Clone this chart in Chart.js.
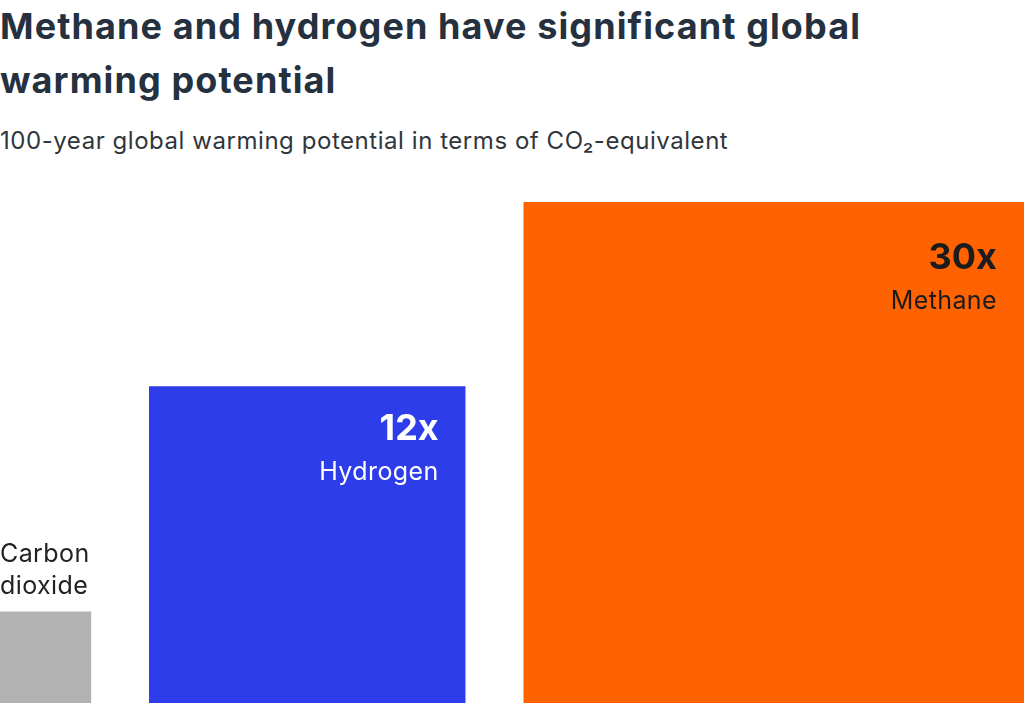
<html>

<head>
    <title>Global warming potential</title>
    <script src="https://cdn.jsdelivr.net/npm/chart.js@4.4.1/dist/chart.umd.min.js"></script>
    <style>
        body {
            margin: 0;
            background: #fff;
            font-family: Inter, 'Noto Sans', sans-serif;
        }

        #title {
            position: absolute;
            left: 0;
            top: -1px;
            font-size: 36px;
            font-weight: 700;
            letter-spacing: 1.1px;
            line-height: 54px;
            color: #25313e;
        }

        #subtitle {
            position: absolute;
            left: 0;
            top: 126px;
            font-size: 24px;
            letter-spacing: 0.55px;
            line-height: 30px;
            color: #30363c;
        }

        #chartDiv {
            position: absolute;
            left: 0;
            top: 170px;
            width: 1024px;
            height: 545px;
        }
    </style>
</head>

<body>
    <div id="title">Methane and hydrogen have significant global<br>warming potential</div>
    <div id="subtitle">100-year global warming potential in terms of CO₂-equivalent</div>
    <div id="chartDiv"><canvas id="chartCanvas"></canvas></div>

    <script>
        // data: global warming potential, CO2 = 1
        const gases = ['Carbon dioxide', 'Hydrogen', 'Methane']
        const potential = [1, 12, 30]
        const valueLabels = ['', '12x', '30x']

        const colors = ['#b2b2b2', '#2c3de9', '#ff6200']
        const textColors = ['#222222', '#ffffff', '#1c1c1c']
        const gap = 0.63 // space between squares, in side units

        // each square's area is proportional to the value
        const sides = potential.map(v => Math.sqrt(v))
        let cursor = 0
        const squares = sides.map(s => {
            const x0 = cursor
            cursor += s + gap
            return { x0, x1: x0 + s, side: s }
        })
        const xMax = cursor - gap
        const yMax = Math.max(...sides)

        const datasets = squares.map((sq, i) => ({
            label: gases[i],
            data: [
                { x: sq.x0, y: 0 },
                { x: sq.x0, y: sq.side },
                { x: sq.x1, y: sq.side },
                { x: sq.x1, y: 0 },
            ],
            showLine: true,
            fill: 'origin',
            backgroundColor: colors[i],
            borderColor: colors[i],
            borderWidth: 0,
            pointRadius: 0,
            pointHoverRadius: 0,
            tension: 0,
        }))

        const squareLabels = {
            id: 'squareLabels',
            afterDatasetsDraw(chart) {
                const { ctx, scales: { x, y } } = chart
                ctx.save()
                squares.forEach((sq, i) => {
                    const left = x.getPixelForValue(sq.x0)
                    const right = x.getPixelForValue(sq.x1)
                    const top = y.getPixelForValue(sq.side)
                    const sidePx = y.getPixelForValue(0) - top
                    ctx.fillStyle = textColors[i]
                    ctx.textBaseline = 'alphabetic'
                    if (valueLabels[i]) {
                        // label inside, top-right corner
                        const base = top + 31 + sidePx * 0.071
                        ctx.textAlign = 'right'
                        ctx.letterSpacing = '0px'
                        ctx.font = '700 36px Inter'
                        ctx.fillText(valueLabels[i], right - 27, base)
                        ctx.letterSpacing = '0.4px'
                        ctx.font = '400 25px Inter'
                        ctx.fillText(gases[i], right - 27, base + 40)
                    } else {
                        // small square: name above it
                        ctx.textAlign = 'left'
                        ctx.letterSpacing = '0.4px'
                        ctx.font = '400 25px Inter'
                        const words = gases[i].split(' ')
                        words.forEach((w, k) => {
                            ctx.fillText(w, left, top - 18 - (words.length - 1 - k) * 32)
                        })
                    }
                })
                ctx.restore()
            },
        }

        const chart = new Chart(document.getElementById('chartCanvas'), {
            type: 'scatter',
            data: { datasets },
            options: {
                responsive: true,
                maintainAspectRatio: false,
                animation: false,
                layout: { padding: { top: 32, bottom: 12, left: 0, right: 0 } },
                scales: {
                    x: { type: 'linear', min: 0, max: xMax, display: false },
                    y: { type: 'linear', min: 0, max: yMax, display: false },
                },
                plugins: {
                    legend: { display: false },
                    tooltip: { enabled: false },
                },
            },
            plugins: [squareLabels],
        })
    </script>
</body>

</html>
